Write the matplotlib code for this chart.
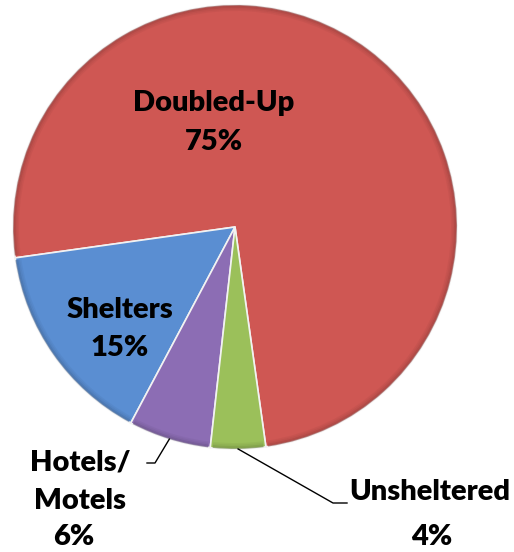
import matplotlib
matplotlib.use("Agg")
import matplotlib.pyplot as plt
from matplotlib.patches import Wedge
import matplotlib.colors as mcolors
import numpy as np

categories = ["Doubled-Up", "Shelters", "Hotels/\nMotels", "Unsheltered"]
values = [75, 15, 6, 4]
pct_labels = ["75%", "15%", "6%", "4%"]
colors = ["#CF5753", "#5A8ED2", "#8C6DB4", "#9BC05A"]

W, H = 514, 552
fig = plt.figure(figsize=(W / 100, H / 100), dpi=100)
ax = fig.add_axes([0, 0, 1, 1])

cx, cy, R = 235, H - 227, 222
wedges, _ = ax.pie(values, colors=colors, startangle=-82, counterclock=True,
                   center=(cx, cy), radius=R, explode=[0.02, 0, 0, 0],
                   wedgeprops=dict(edgecolor="#F2F2F2", linewidth=1.2),
                   frame=True)
ax.set_xlim(0, W)
ax.set_ylim(0, H)
ax.set_aspect("equal")
ax.axis("off")

# bevel-like soft darker rim on each wedge (graded)
for w, c in zip(wedges, colors):
    dark = np.array(mcolors.to_rgb(c)) * 0.7
    for k, a in enumerate([0.12, 0.25, 0.45, 0.65]):
        rim = Wedge(w.center, w.r - (3 - k) * 1.5, w.theta1 + 0.6, w.theta2 - 0.6,
                    width=1.5, facecolor=dark, edgecolor="none", alpha=a)
        ax.add_patch(rim)

font = dict(family=["Lato", "DejaVu Sans"], fontweight="heavy", fontsize=21, color="black")

# inside labels
ax.text(214, H - 103, categories[0], ha="center", va="center", **font)
ax.text(214, H - 142, pct_labels[0], ha="center", va="center", **font)
ax.text(120, H - 310, categories[1], ha="center", va="center", **font)
ax.text(120, H - 348, pct_labels[1], ha="center", va="center", **font)

# outside labels with leader lines
def edge_point(w):
    a = np.deg2rad((w.theta1 + w.theta2) / 2)
    return w.center[0] + w.r * np.cos(a), w.center[1] + w.r * np.sin(a)

hx, hy = edge_point(wedges[2])
ax.plot([hx, 155, 147], [hy, H - 463, H - 463], color="black", lw=1)
ax.text(80, H - 463, "Hotels/", ha="center", va="center", **font)
ax.text(80, H - 501, "Motels", ha="center", va="center", **font)
ax.text(74, H - 537, pct_labels[2], ha="center", va="center", **font)

ux, uy = edge_point(wedges[3])
ax.plot([ux, 333, 347], [uy, H - 503, H - 503], color="black", lw=1)
ax.text(430, H - 492, categories[3], ha="center", va="center", **font)
ax.text(432, H - 537, pct_labels[3], ha="center", va="center", **font)

fig.savefig("out.png", dpi=100)
